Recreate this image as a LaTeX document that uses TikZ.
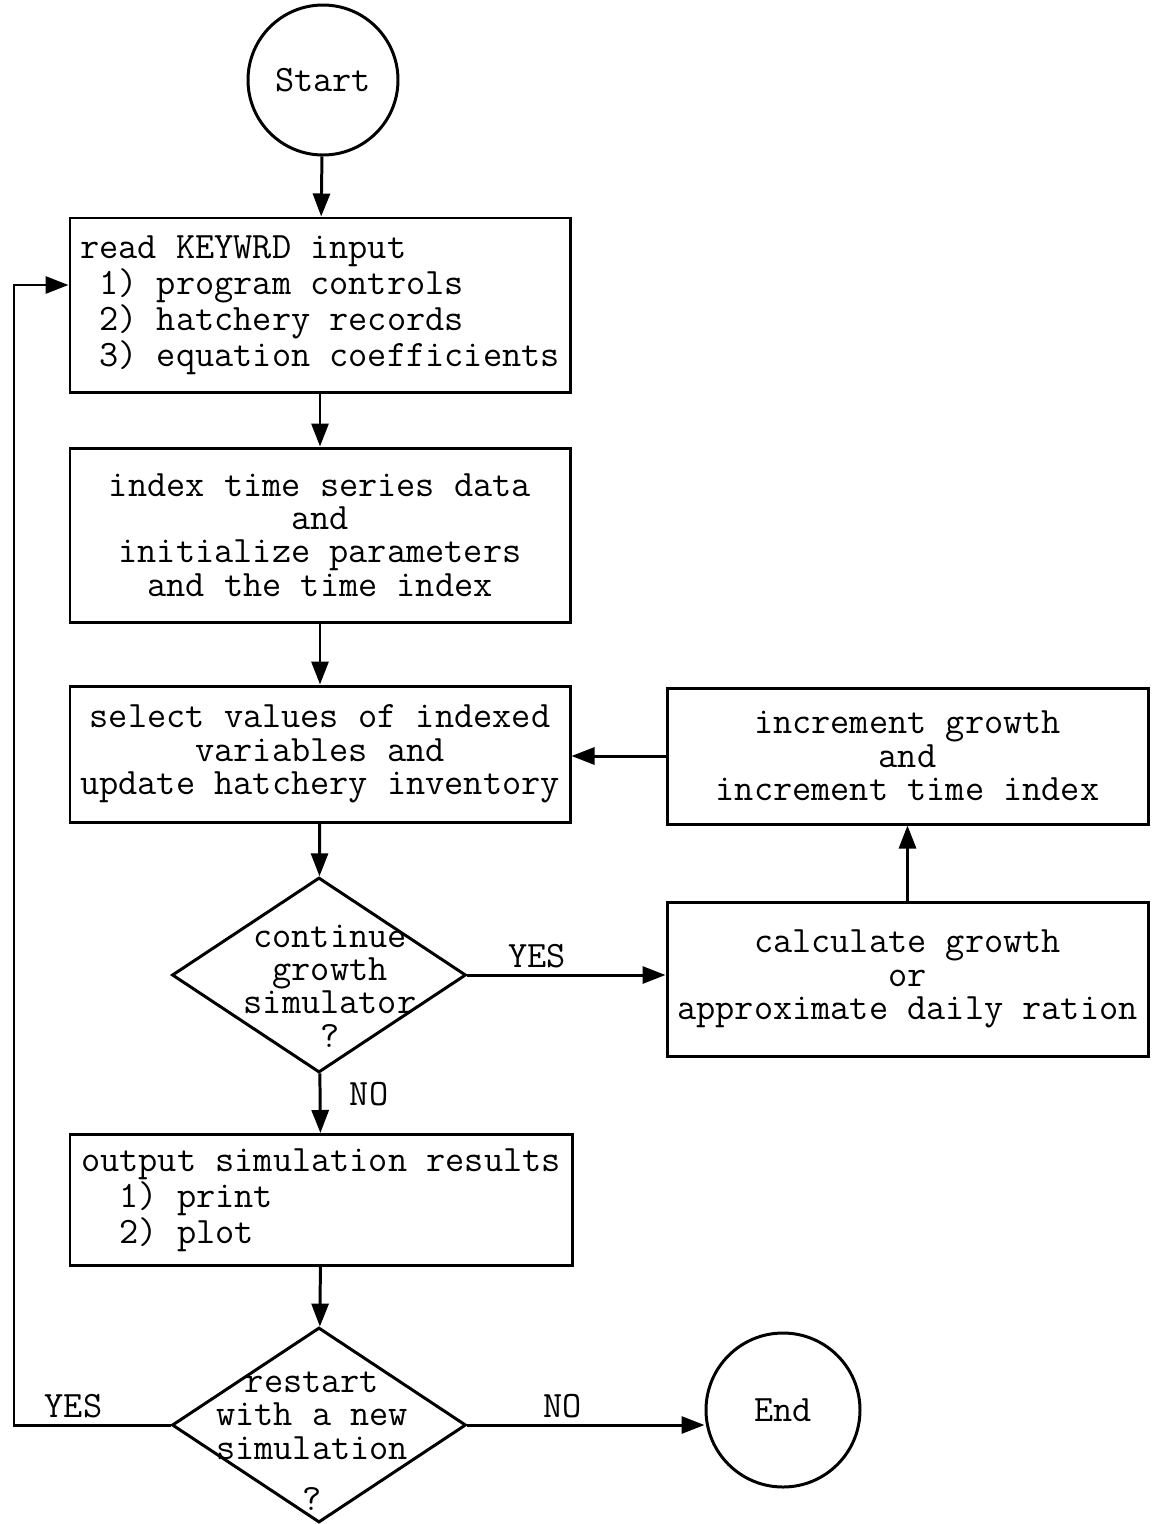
\documentclass[tikz,border=0pt]{standalone}
\usetikzlibrary{shapes, arrows.meta, positioning, calc}

\begin{document}
\begin{tikzpicture}[
        every node/.style={font=\fontsize{21.2}{19}\selectfont\ttfamily},
        terminal/.style={circle, draw=black, line width=1.7pt, minimum size=3cm, inner sep=0pt},
        process/.style={rectangle, draw=black, line width=1.7pt, minimum width=10cm, align=center},
        decision/.style={diamond, draw=black, line width=1.7pt, minimum width=5.88cm, minimum height=3.9cm, inner sep=0pt},
        qtext/.style={align=center, inner sep=0pt},
        arrow/.style={-{Triangle[length=4.6mm, width=3.4mm]}, line width=1.7pt, draw=black}
    ]
    \useasboundingbox (0,0) rectangle (23.12,-30.48);

    % Start and input
    \node[terminal] (start) at (6.46,-1.6) {Start};
    \node[process, minimum height=3.48cm, align=left] (read) at (6.4,-6.1)
        {read KEYWRD input\\~1) program controls\\~2) hatchery records\\~3) equation coefficients};
    \draw[arrow] (start) -- (read);

    % Initialization
    \node[process, minimum height=3.48cm] (index) at (6.4,-10.7)
        {index time series data\\and\\initialize parameters\\and the time index};
    \draw[arrow] (read) -- (index);

    % Main loop
    \node[process, minimum height=2.72cm] (select) at (6.4,-15.08)
        {select values of indexed\\variables and\\update hatchery inventory};
    \draw[arrow] (index) -- (select);

    \node[decision] (cont) at (6.38,-19.5) {};
    \node[qtext] (cont_txt) at (6.6,-19.72) {continue\\growth\\simulator\\?};
    \draw[arrow] (select) -- (cont);

    \node[process, minimum width=9.62cm, minimum height=3.08cm] (calc) at (18.15,-19.58)
        {calculate growth\\or\\approximate daily ration};
    \node[process, minimum width=9.62cm, minimum height=2.72cm] (incr) at (18.15,-15.12)
        {increment growth\\and\\increment time index};
    \draw[arrow] (cont.east) -- node[above, pos=0.35] {YES} (cont.east -| calc.west);
    \draw[arrow] (calc) -- (incr);
    \draw[arrow] (incr.west) -- (incr.west -| select.east);

    % Output
    \node[process, minimum width=10.04cm, minimum height=2.62cm, align=left] (output) at (6.42,-24.0)
        {output simulation results\\~~1) print\\~~2) plot};
    \draw[arrow] (cont) -- node[right, pos=0.35, xshift=0.45cm] {NO} (output);

    % Restart or end
    \node[decision] (restart) at (6.38,-28.5) {};
    \node[qtext] (restart_txt) at (6.24,-28.82) {restart\\with a new\\simulation\\[0.35cm]?};
    \draw[arrow] (output) -- (restart);

    \node[terminal, minimum size=3.08cm] (end) at (15.66,-28.2) {End};
    \draw[arrow] (restart.east) -- node[above, pos=0.4] {NO} (restart.east -| end.west);

    \coordinate (loop_top) at (0.28,-5.7);
    \draw[arrow] (restart.west) -| node[above, pos=0.31] {YES} (loop_top) -- (loop_top -| read.west);

\end{tikzpicture}
\end{document}
